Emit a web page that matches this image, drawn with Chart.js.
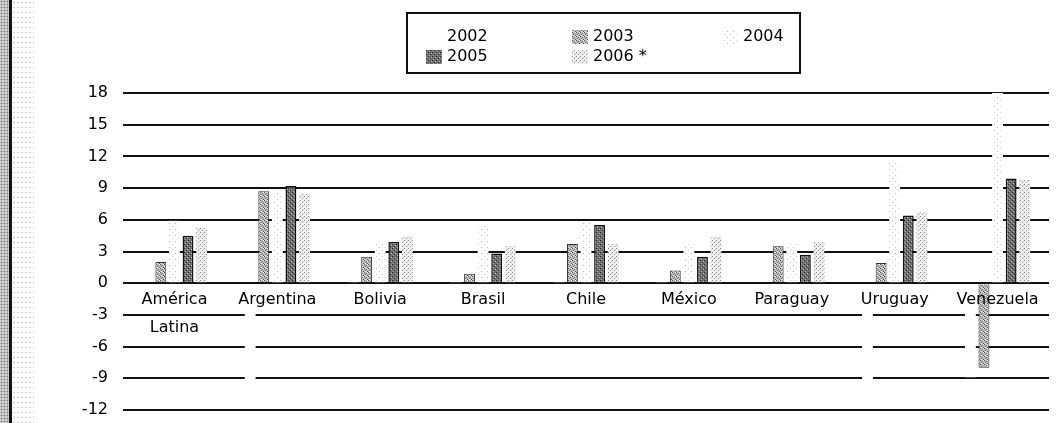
<!DOCTYPE html>
<html>
<head>
<meta charset="utf-8">
<script src="https://cdn.jsdelivr.net/npm/chart.js@4.4.1/dist/chart.umd.min.js"></script>
<style>
    html, body { margin: 0; padding: 0; background: #fff; }
    #wrap { position: relative; width: 1057px; height: 423px; overflow: hidden; }
    #growthChart { position: absolute; left: 0; top: 0; }
    #strip {
        position: absolute; left: 0; top: 0; width: 9px; height: 423px;
        background-color: #d4d4d4;
        background-image: radial-gradient(#777 0.8px, transparent 1.1px);
        background-size: 3px 3px;
        border-right: 3px solid #111;
    }
    #speckle {
        position: absolute; left: 12px; top: 0; width: 22px; height: 423px;
        background-image: radial-gradient(#aaa 0.7px, transparent 1px);
        background-size: 4px 5px; opacity: .55;
    }
</style>
</head>
<body>
<div id="wrap">
    <canvas id="growthChart" width="1057" height="423"></canvas>
    <div id="strip"></div>
    <div id="speckle"></div>
</div>
<script>
// Categories and values (% growth)
const countries = [['América', 'Latina'], 'Argentina', 'Bolivia', 'Brasil', 'Chile', 'México', 'Paraguay', 'Uruguay', 'Venezuela'];
const yearLabels = ['2002', '2003', '2004', '2005', '2006 *'];
const values2002 = [-0.4, -10.9, 2.5, 2.7, 2.2, 0.8, 0.0, -11.0, -8.9];
const values2003 = [2.0, 8.7, 2.5, 0.9, 3.7, 1.2, 3.5, 1.9, -8.0];
const values2004 = [5.9, 8.9, 3.9, 5.4, 5.7, 3.8, 3.8, 11.5, 18.3];
const values2005 = [4.5, 9.2, 3.9, 2.8, 5.5, 2.5, 2.7, 6.4, 9.9];
const values2006 = [5.3, 8.5, 4.4, 3.5, 3.7, 4.4, 3.9, 6.7, 9.8];
const yMin = -12, yMax = 18, yStep = 3;

const FONT = '"DejaVu Sans", "Liberation Sans", sans-serif';

// small stipple tiles to imitate the print screens
function makePattern(size, base, dots) {
    const c = document.createElement('canvas');
    c.width = size; c.height = size;
    const g = c.getContext('2d');
    g.fillStyle = base;
    g.fillRect(0, 0, size, size);
    dots.forEach(([x, y, col]) => {
        g.fillStyle = col;
        g.fillRect(x, y, 1, 1);
    });
    return g.createPattern(c, 'repeat');
}

const fill2003 = makePattern(4, '#bdbdbd', [[0, 0, '#555'], [2, 1, '#777'], [1, 2, '#666'], [3, 3, '#555'], [3, 0, '#eee'], [1, 3, '#eee']]);
const fill2004 = makePattern(6, '#ffffff', [[1, 1, '#b4b4b4'], [4, 4, '#d0d0d0']]);
const fill2005 = makePattern(4, '#6e6e6e', [[0, 0, '#2a2a2a'], [2, 2, '#333'], [1, 3, '#aaa'], [3, 1, '#bbb']]);
const fill2006 = makePattern(4, '#efefef', [[0, 0, '#888'], [2, 2, '#999'], [3, 1, '#ccc']]);

// legend drawn as a boxed 3-column grid like the original
const boxLegend = {
    id: 'boxLegend',
    afterDraw(chart) {
        const ctx = chart.ctx;
        ctx.save();
        ctx.lineWidth = 2;
        ctx.strokeStyle = '#111';
        ctx.strokeRect(407, 13, 393, 60);
        ctx.font = '16px ' + FONT;
        ctx.textBaseline = 'middle';
        const cols = [426, 572, 722];
        const rows = [37, 57];
        chart.data.datasets.forEach((ds, i) => {
            const x = cols[i % 3];
            const y = rows[Math.floor(i / 3)];
            ctx.fillStyle = ds.backgroundColor;
            ctx.fillRect(x, y - 7, 16, 14);
            ctx.fillStyle = '#000';
            ctx.fillText(ds.label, x + 21, y);
        });
        ctx.restore();
    }
};

const ctx = document.getElementById('growthChart').getContext('2d');
new Chart(ctx, {
    type: 'bar',
    data: {
        labels: countries,
        datasets: [
            { label: yearLabels[0], data: values2002, backgroundColor: '#ffffff', borderWidth: 0 },
            { label: yearLabels[1], data: values2003, backgroundColor: fill2003, borderColor: '#333', borderWidth: 1 },
            { label: yearLabels[2], data: values2004, backgroundColor: fill2004, borderWidth: 0 },
            { label: yearLabels[3], data: values2005, backgroundColor: fill2005, borderColor: '#111', borderWidth: 1.5 },
            { label: yearLabels[4], data: values2006, backgroundColor: fill2006, borderWidth: 0 }
        ]
    },
    options: {
        responsive: false,
        animation: false,
        categoryPercentage: 0.66,
        barPercentage: 0.8,
        layout: { padding: { top: 93, right: 8, bottom: 13, left: 0 } },
        plugins: {
            legend: { display: false },
            tooltip: { enabled: false }
        },
        scales: {
            x: {
                position: { y: 0 },
                grid: { display: false, drawTicks: false },
                border: { display: false },
                ticks: {
                    z: 1,
                    color: '#000',
                    font: { family: FONT, size: 16, lineHeight: 1.75 },
                    padding: 3,
                    maxRotation: 0,
                    autoSkip: false
                }
            },
            y: {
                min: yMin,
                max: yMax,
                afterFit: (scale) => {
                    scale.width = 123;
                    scale.paddingTop = 0;
                    scale.paddingBottom = 0;
                },
                grid: { color: '#111', lineWidth: 2, drawTicks: false },
                border: { display: false },
                ticks: {
                    stepSize: yStep,
                    color: '#000',
                    font: { family: FONT, size: 16 },
                    padding: 15
                }
            }
        }
    },
    plugins: [boxLegend]
});
</script>
</body>
</html>
